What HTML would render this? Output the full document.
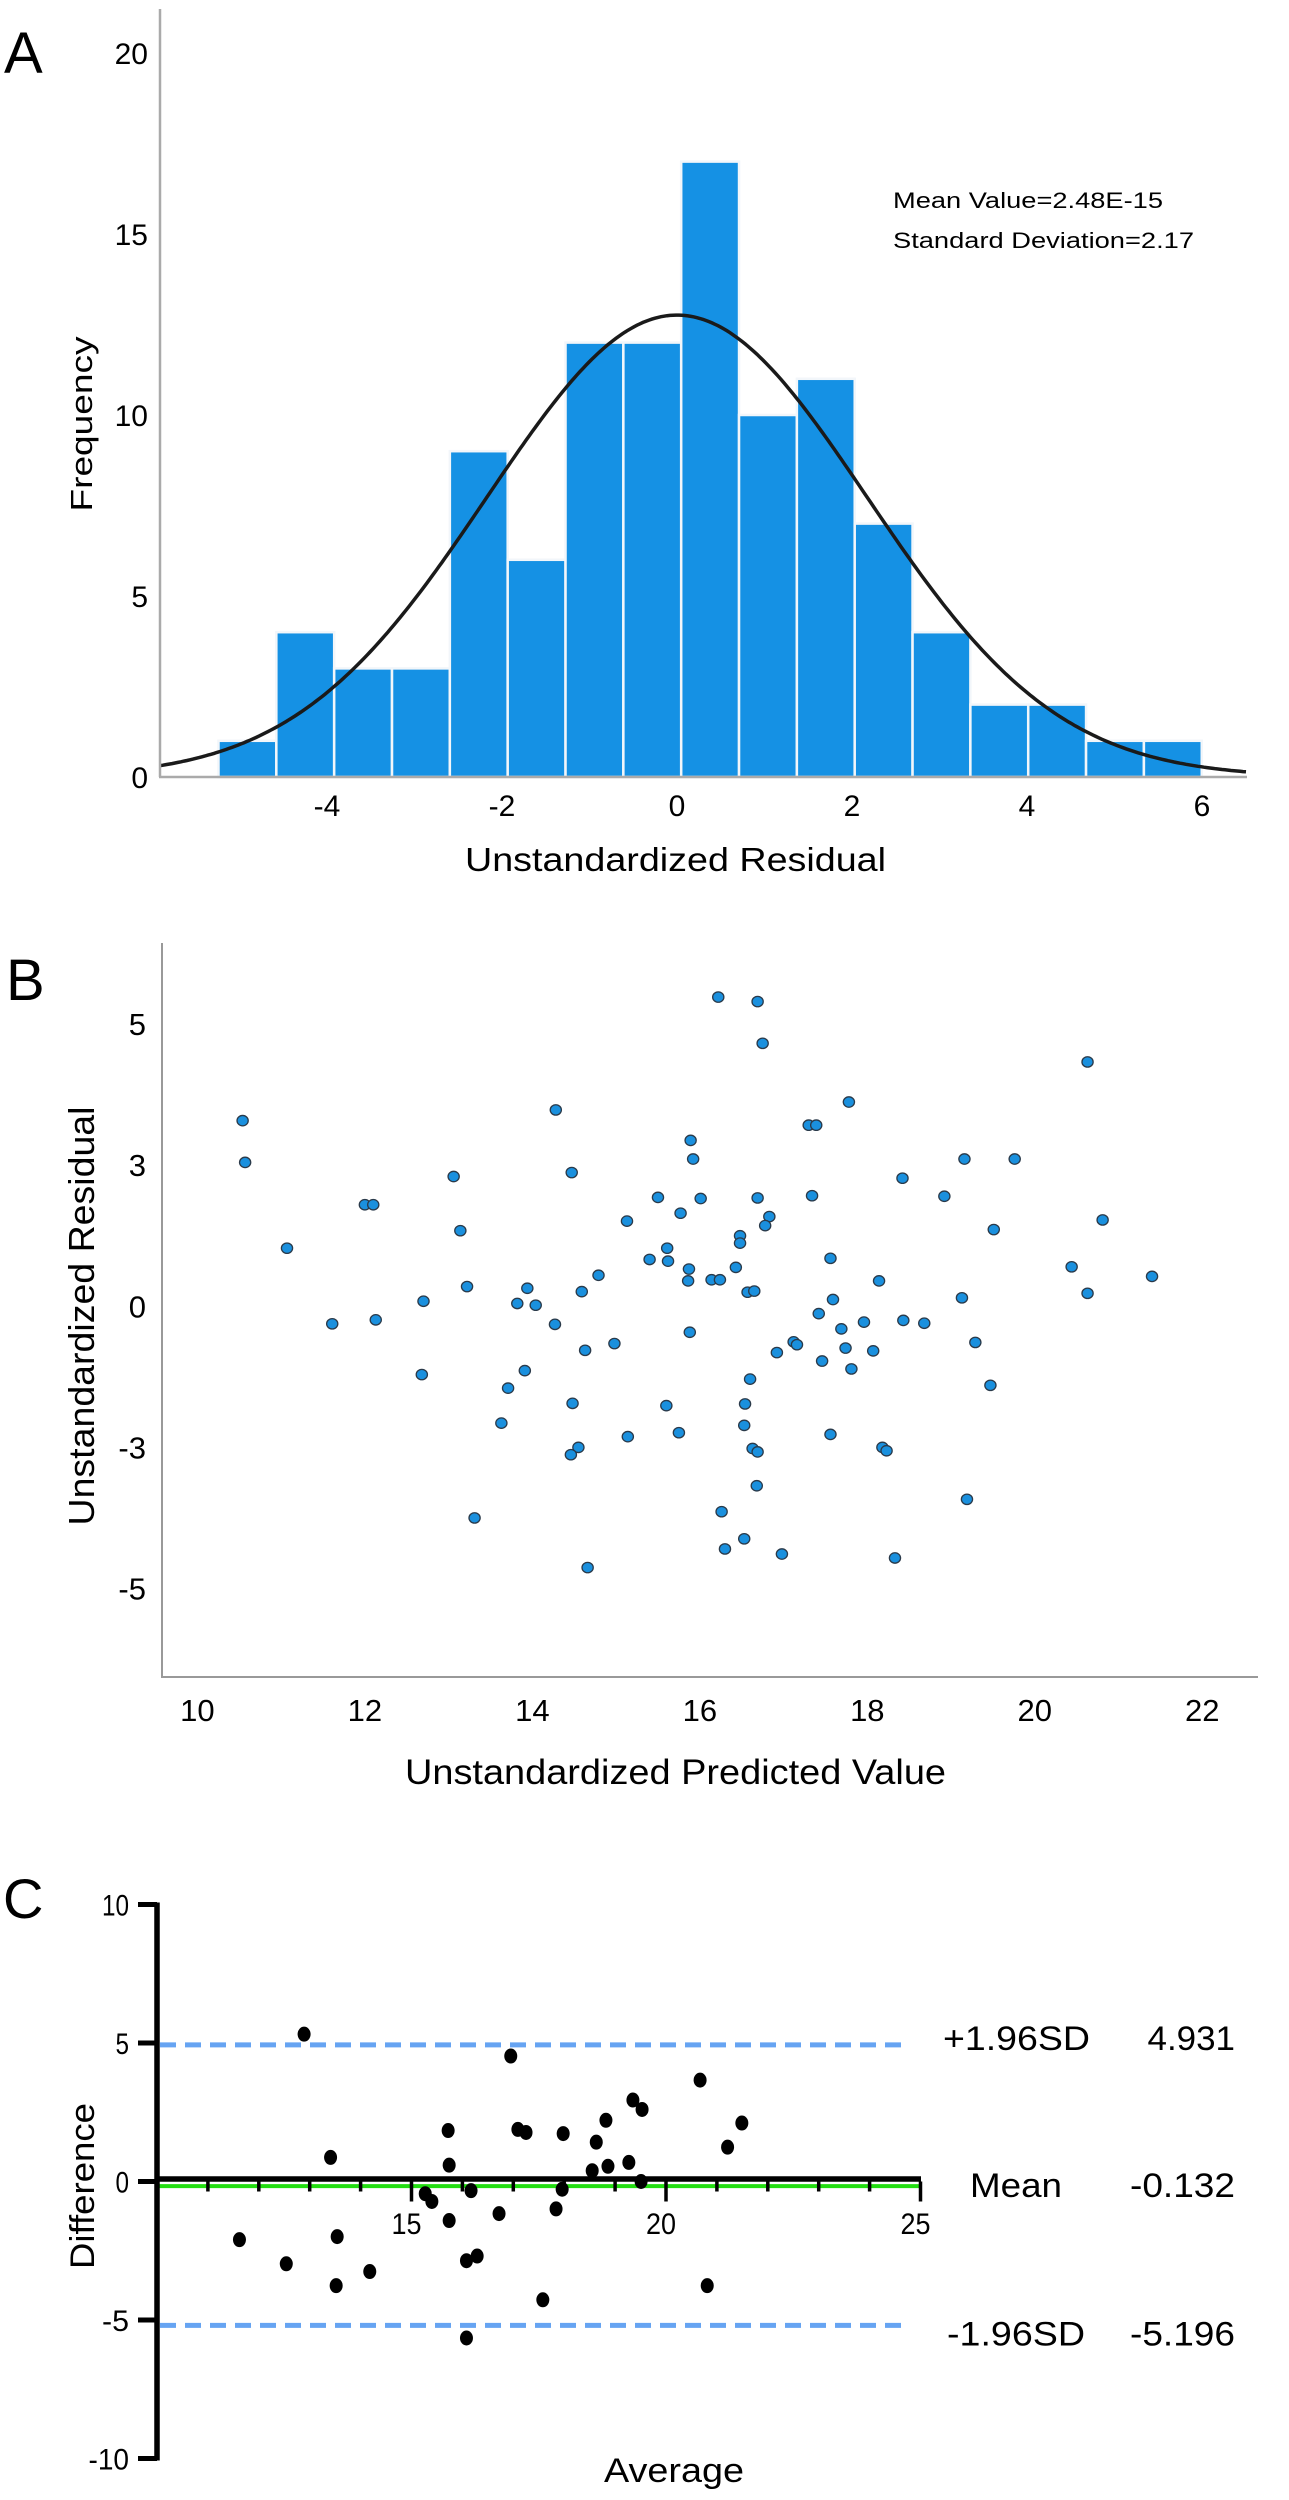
<!DOCTYPE html>
<html><head><meta charset="utf-8"><style>
html,body{margin:0;padding:0;background:#fff;}
svg{display:block;font-family:"Liberation Sans",Arial,sans-serif;}
</style></head><body>
<svg id="fig" width="1289" height="2500" viewBox="0 0 1289 2500" xmlns="http://www.w3.org/2000/svg">
<rect width="1289" height="2500" fill="#fff"/>
<!-- Panel A -->
<g id="panelA">
<text x="4" y="73" font-size="58">A</text>
<g id="aBars"></g>
<path id="aCurve" fill="none" stroke="#1a1a1a" stroke-width="3.5"/>
<line x1="160" y1="9" x2="160" y2="777" stroke="#aaa" stroke-width="2.5"/>
<line x1="159" y1="777" x2="1247" y2="777" stroke="#aaa" stroke-width="2.5"/>
<g id="aYTicks"></g>
<g id="aXTicks"></g>
<text x="82" y="424" font-size="31" text-anchor="middle" transform="rotate(-90 82 424)" dy="10" textLength="175" lengthAdjust="spacingAndGlyphs">Frequency</text>
<text x="465" y="871" font-size="33" textLength="421" lengthAdjust="spacingAndGlyphs">Unstandardized Residual</text>
<text x="893" y="208" font-size="22" textLength="270" lengthAdjust="spacingAndGlyphs">Mean Value=2.48E-15</text>
<text x="893" y="248" font-size="22" textLength="301" lengthAdjust="spacingAndGlyphs">Standard Deviation=2.17</text>
</g>
<!-- Panel B -->
<g id="panelB">
<text x="6" y="1000" font-size="58">B</text>
<line x1="162" y1="943" x2="162" y2="1677" stroke="#999" stroke-width="2"/>
<line x1="161" y1="1677" x2="1258" y2="1677" stroke="#999" stroke-width="2"/>
<g id="bYTicks"></g>
<g id="bXTicks"></g>
<g id="bPoints"></g>
<text x="82" y="1316" font-size="36" text-anchor="middle" dy="12" transform="rotate(-90 82 1316)" textLength="419" lengthAdjust="spacingAndGlyphs">Unstandardized Residual</text>
<text x="405" y="1784" font-size="35" textLength="541" lengthAdjust="spacingAndGlyphs">Unstandardized Predicted Value</text>
</g>
<!-- Panel C -->
<g id="panelC">
<text x="3" y="1918" font-size="56">C</text>
<g id="cLines"></g>
<g id="cAxes"></g>
<g id="cPoints"></g>
<text x="82" y="2186" font-size="34" text-anchor="middle" dy="12" transform="rotate(-90 82 2186)" textLength="166" lengthAdjust="spacingAndGlyphs">Difference</text>
<text x="604" y="2482" font-size="34" textLength="140" lengthAdjust="spacingAndGlyphs">Average</text>
<g id="cRight"></g>
</g>
</svg>
<script>
const NS="http://www.w3.org/2000/svg";
// ---- Panel A data ----
const histCounts=[1,4,3,3,9,6,12,12,17,10,11,7,4,2,2,1,1];
const histStart=-5.24;
const histBinWidth=0.661;
const histMean=0;
const histSD=2.17;
const aYTickValues=[0,5,10,15,20];
const aXTickValues=[-4,-2,0,2,4,6];
// ---- Panel B data ----
const predicted=[16.22,16.69,16.75,20.63,10.54,10.57,14.28,17.78,17.30,17.39,15.89,15.92,19.16,19.76,13.06,14.47,18.42,12.00,12.10,15.50,16.01,16.69,17.34,18.92,15.77,16.83,16.78,15.13,20.81,13.14,19.51,11.07,15.61,16.48,16.48,15.40,15.62,17.56,15.87,16.43,20.44,15.86,16.14,16.24,18.14,21.40,14.79,13.22,13.94,14.59,16.57,16.65,20.63,19.13,17.59,12.70,13.82,14.04,17.42,11.61,12.13,14.27,17.96,18.43,18.68,17.69,15.88,14.98,17.12,17.16,19.29,14.63,16.92,17.74,18.07,17.46,13.91,17.81,12.68,16.60,13.71,19.47,14.48,15.60,16.54,13.63,16.53,15.14,15.75,17.56,14.55,14.46,16.63,16.69,18.18,18.23,16.68,19.19,13.31,16.26,16.53,16.30,16.98,18.33,14.66];
const residuals=[5.48,5.40,4.66,4.33,3.29,2.55,3.48,3.62,3.21,3.21,2.94,2.61,2.61,2.61,2.30,2.37,2.27,1.80,1.80,1.93,1.91,1.92,1.96,1.95,1.65,1.59,1.43,1.51,1.53,1.34,1.36,1.03,1.03,1.25,1.12,0.83,0.80,0.85,0.66,0.69,0.70,0.45,0.47,0.47,0.45,0.53,0.55,0.35,0.32,0.26,0.25,0.27,0.23,0.15,0.12,0.09,0.05,0.02,-0.13,-0.31,-0.24,-0.32,-0.28,-0.25,-0.30,-0.40,-0.46,-0.66,-0.63,-0.68,-0.64,-0.78,-0.82,-0.74,-0.79,-0.97,-1.14,-1.11,-1.21,-1.29,-1.45,-1.40,-1.72,-1.76,-1.73,-2.07,-2.11,-2.31,-2.24,-2.27,-2.50,-2.63,-2.52,-2.58,-2.50,-2.56,-3.18,-3.42,-3.75,-3.64,-4.12,-4.30,-4.39,-4.46,-4.63];
const bYTickValues=[5,2.5,0,-2.5,-5];
const bYTickLabels=["5","3","0","-3","-5"];
const bXTickValues=[10,12,14,16,18,20,22];
// ---- Panel C data ----
const averages=[12.89,16.95,20.67,19.35,19.53,21.49,18.82,15.72,17.09,17.25,17.98,18.63,21.21,13.41,15.74,19.27,18.86,18.55,19.51,16.17,17.96,15.27,15.40,16.72,17.84,15.74,11.62,13.54,12.54,16.08,16.29,14.18,13.52,20.81,17.58,16.08];
const differences=[5.32,4.53,3.66,2.94,2.60,2.11,2.21,1.84,1.88,1.77,1.73,1.42,1.24,0.87,0.59,0.69,0.55,0.39,0.0,-0.33,-0.28,-0.44,-0.72,-1.16,-0.99,-1.41,-2.10,-1.99,-2.97,-2.86,-2.69,-3.25,-3.76,-3.76,-4.27,-5.65];
const meanDiff=-0.132;
const upperLoA=4.931;
const lowerLoA=-5.196;
const cYTickValues=[10,5,0,-5,-10];
const cXMajorTicks=[15,20,25];
const cXMinorTicks=[11,12,13,14,16,17,18,19,21,22,23,24];

function mk(tag,attrs,parent){const e=document.createElementNS(NS,tag);for(const k in attrs)e.setAttribute(k,attrs[k]);parent.appendChild(e);return e;}

// Panel A scales
const axA=v=>677+87.5*v;
const ayA=v=>777-36.2*v;
const gBars=document.getElementById('aBars');
histCounts.forEach((c,i)=>{
  const x0=axA(histStart+i*histBinWidth),x1=axA(histStart+(i+1)*histBinWidth);
  const r=mk('rect',{x:x0,y:ayA(c),width:x1-x0,height:ayA(0)-ayA(c),fill:'#1591e4',stroke:'#f2f6fa','stroke-width':2.5},gBars);
  
  
});
const total=histCounts.reduce((a,b)=>a+b,0);
let d='';
for(let px=160;px<=1247;px+=3){
  const v=(px-677)/87.5;
  const f=total*histBinWidth*Math.exp(-0.5*Math.pow((v-histMean)/histSD,2))/(histSD*Math.sqrt(2*Math.PI));
  d+=(d?'L':'M')+px+','+ayA(f).toFixed(1);
}
document.getElementById('aCurve').setAttribute('d',d);
const gAY=document.getElementById('aYTicks');
aYTickValues.forEach(v=>{const t=mk('text',{x:148,y:ayA(v)+11,'font-size':30,'text-anchor':'end'},gAY);t.textContent=v;
  
  });
const gAX=document.getElementById('aXTicks');
aXTickValues.forEach(v=>{const t=mk('text',{x:axA(v),y:816,'font-size':30,'text-anchor':'middle'},gAX);t.textContent=v;
  
  });

// Panel B scales
const axB=v=>197.4+83.74*(v-10);
const ayB=v=>1306.3-56.43*v;
const gBY=document.getElementById('bYTicks');
bYTickValues.forEach((v,i)=>{const t=mk('text',{x:146,y:ayB(v)+11,'font-size':31,'text-anchor':'end'},gBY);t.textContent=bYTickLabels[i];
  
  });
const gBX=document.getElementById('bXTicks');
bXTickValues.forEach(v=>{const t=mk('text',{x:axB(v),y:1721,'font-size':31,'text-anchor':'middle'},gBX);t.textContent=v;
  
  });
const gBP=document.getElementById('bPoints');
predicted.forEach((p,i)=>{const c=mk('ellipse',{cx:axB(p),cy:ayB(residuals[i]),rx:5.6,ry:5.2,fill:'#1a90de',stroke:'#2a3a4a','stroke-width':1.3},gBP);
  
  });

// Panel C scales
const axC=v=>157+50.9*(v-10);
const ayC=v=>2181.5-27.7*v;
const gCL=document.getElementById('cLines');
[upperLoA,lowerLoA].forEach(v=>{const l=mk('line',{x1:160,y1:ayC(v),x2:905,y2:ayC(v),stroke:'#66a4f2','stroke-width':5,'stroke-dasharray':'16 9'},gCL);
  
  });
const ml=mk('line',{x1:157,y1:ayC(meanDiff)+1,x2:921,y2:ayC(meanDiff)+1,stroke:'#22dd11','stroke-width':4},gCL);


const gCA=document.getElementById('cAxes');
const zl=mk('line',{x1:157,y1:ayC(0)-2.5,x2:921,y2:ayC(0)-2.5,stroke:'#000','stroke-width':5.5},gCA);


const ya=mk('line',{x1:157,y1:ayC(10)-2,x2:157,y2:ayC(-10)+2,stroke:'#000','stroke-width':5.5},gCA);


cYTickValues.forEach(v=>{
  const tk=mk('line',{x1:138,y1:ayC(v),x2:157,y2:ayC(v),stroke:'#000','stroke-width':5},gCA);
  
  
  const t=mk('text',{x:129,y:ayC(v)+11,'font-size':30,'text-anchor':'end',textLength:String(v).length*13.5,lengthAdjust:'spacingAndGlyphs'},gCA);t.textContent=v;
  
  
});
cXMinorTicks.forEach(v=>{const tk=mk('line',{x1:axC(v),y1:ayC(0),x2:axC(v),y2:ayC(0)+10,stroke:'#000','stroke-width':3.5},gCA);
  
  });
cXMajorTicks.forEach(v=>{const tk=mk('line',{x1:axC(v),y1:ayC(0),x2:axC(v),y2:ayC(0)+20,stroke:'#000','stroke-width':3.5},gCA);
  
  
  const t=mk('text',{x:axC(v)-5,y:2234,'font-size':30,'text-anchor':'middle',textLength:30,lengthAdjust:'spacingAndGlyphs'},gCA);t.textContent=v;
  
  });
const gCP=document.getElementById('cPoints');
averages.forEach((a,i)=>{const c=mk('ellipse',{cx:axC(a),cy:ayC(differences[i]),rx:6.5,ry:7.5,fill:'#000'},gCP);
  
  });
const gR=document.getElementById('cRight');
[["+1.96SD",upperLoA,upperLoA.toFixed(3),943,147],["Mean",meanDiff,meanDiff.toFixed(3),970,92],["-1.96SD",lowerLoA,lowerLoA.toFixed(3),947,138]].forEach(r=>{
  const y=ayC(r[1])-(r[0]==="+1.96SD"?7:(r[0]==="-1.96SD"?-8:0))+12;
  const t1=mk('text',{x:r[3],y:y,'font-size':34,textLength:r[4],lengthAdjust:'spacingAndGlyphs'},gR);t1.textContent=r[0];
  
  
  const t2=mk('text',{x:1235,y:y,'font-size':34,'text-anchor':'end',textLength:r[2].length*17.5,lengthAdjust:'spacingAndGlyphs'},gR);t2.textContent=r[2];
  
  
});
</script>
</body></html>
